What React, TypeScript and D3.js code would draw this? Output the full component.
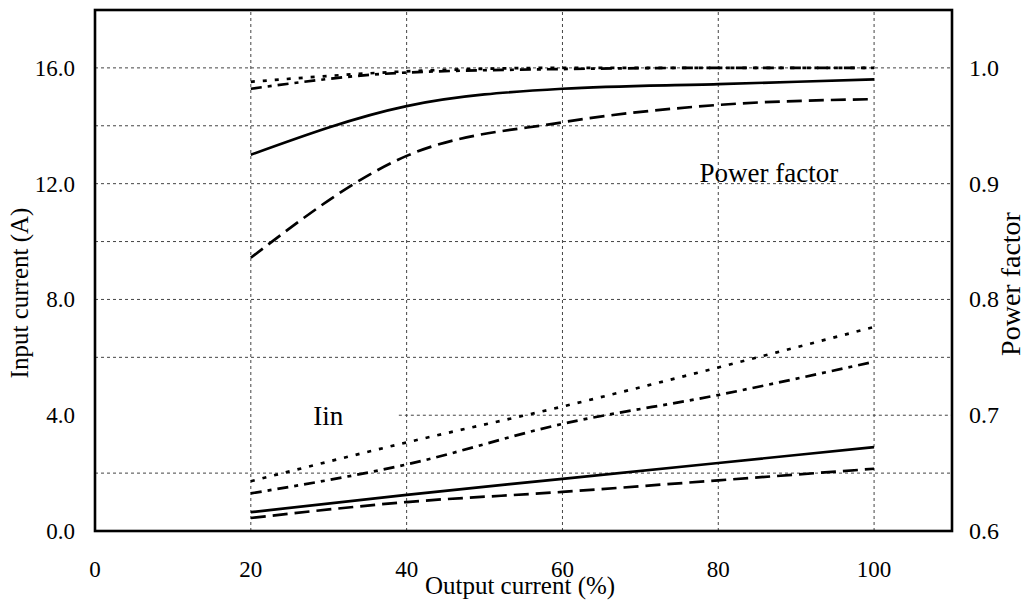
import React, { useRef, useEffect } from "react";
import * as d3 from "d3";

// Output current (%)
const outputCurrent = [20, 40, 60, 80, 100];

// Power factor curves (right axis)
const pfSolid = [0.925, 0.967, 0.982, 0.986, 0.99];
const pfDashed = [0.836, 0.924, 0.953, 0.968, 0.973];
const pfDotted = [0.988, 0.997, 1.0, 1.0, 1.0];
const pfDashDot = [0.982, 0.996, 0.999, 1.0, 1.0];

// Input current curves (left axis, A)
const iinDotted = [1.72, 3.06, 4.3, 5.65, 7.05];
const iinDashDot = [1.3, 2.3, 3.7, 4.7, 5.85];
const iinSolid = [0.65, 1.25, 1.8, 2.35, 2.9];
const iinDashed = [0.45, 1.0, 1.35, 1.75, 2.15];

const xTicks = [0, 20, 40, 60, 80, 100];
const xGrid = [20, 40, 60, 80, 100];
const leftTicks = [0, 4, 8, 12, 16];
const rightTicks = [0.6, 0.7, 0.8, 0.9, 1.0];
const hGrid = [2, 4, 6, 8, 10, 12, 14, 16];

const FONT = "'Liberation Serif', 'Times New Roman', serif";

const App = () => {
  const ref = useRef<SVGSVGElement>(null);

  useEffect(() => {
    const width = 1029;
    const height = 607;
    const svg = d3.select(ref.current);
    svg.selectAll("*").remove();

    const x = d3.scaleLinear().domain([0, 110]).range([95, 952]);
    const y = d3.scaleLinear().domain([0, 18]).range([531, 10]);
    const yR = d3.scaleLinear().domain([0.6, 1.05]).range([531, 10]);

    // mriežka
    const grid = svg
      .append("g")
      .attr("stroke", "#444")
      .attr("stroke-width", 1)
      .attr("stroke-dasharray", "3,3");
    grid
      .selectAll("line.h")
      .data(hGrid)
      .join("line")
      .attr("x1", (d) => (d === 4 ? x(39) : x(0)))
      .attr("x2", x(110))
      .attr("y1", (d) => y(d))
      .attr("y2", (d) => y(d));
    grid
      .selectAll("line.v")
      .data(xGrid)
      .join("line")
      .attr("x1", (d) => x(d))
      .attr("x2", (d) => x(d))
      .attr("y1", y(0))
      .attr("y2", y(18));

    const lineL = d3
      .line<number>()
      .x((_, i) => x(outputCurrent[i]))
      .y((d) => y(d))
      .curve(d3.curveMonotoneX);
    const lineR = d3
      .line<number>()
      .x((_, i) => x(outputCurrent[i]))
      .y((d) => yR(d))
      .curve(d3.curveMonotoneX);

    const series = [
      { values: pfSolid, gen: lineR, dash: null },
      { values: pfDashed, gen: lineR, dash: "15,7" },
      { values: pfDotted, gen: lineR, dash: "4,8" },
      { values: pfDashDot, gen: lineR, dash: "11,6,4,6" },
      { values: iinSolid, gen: lineL, dash: null },
      { values: iinDashed, gen: lineL, dash: "15,7" },
      { values: iinDotted, gen: lineL, dash: "4,8" },
      { values: iinDashDot, gen: lineL, dash: "11,6,4,6" },
    ];

    svg
      .append("g")
      .selectAll("path")
      .data(series)
      .join("path")
      .attr("fill", "none")
      .attr("stroke", "#000")
      .attr("stroke-width", 2.7)
      .attr("stroke-dasharray", (d) => d.dash)
      .attr("d", (d) => d.gen(d.values));

    // rámček
    svg
      .append("rect")
      .attr("x", x(0))
      .attr("y", y(18))
      .attr("width", x(110) - x(0))
      .attr("height", y(0) - y(18))
      .attr("fill", "none")
      .attr("stroke", "#000")
      .attr("stroke-width", 2.6);

    const txt = svg.append("g").attr("font-family", FONT).attr("fill", "#000");

    txt
      .selectAll("text.xt")
      .data(xTicks)
      .join("text")
      .attr("x", (d) => x(d))
      .attr("y", 577)
      .attr("text-anchor", "middle")
      .attr("font-size", 23)
      .text((d) => d);

    txt
      .selectAll("text.lt")
      .data(leftTicks)
      .join("text")
      .attr("class", "lt")
      .attr("x", 75)
      .attr("y", (d) => y(d) + 8)
      .attr("text-anchor", "end")
      .attr("font-size", 23)
      .text((d) => d.toFixed(1));

    txt
      .selectAll("text.rt")
      .data(rightTicks)
      .join("text")
      .attr("class", "rt")
      .attr("x", 969)
      .attr("y", (d) => yR(d) + 8)
      .attr("text-anchor", "start")
      .attr("font-size", 24)
      .text((d) => d.toFixed(1));

    txt
      .append("text")
      .attr("x", 520)
      .attr("y", 594)
      .attr("text-anchor", "middle")
      .attr("font-size", 25)
      .text("Output current (%)");

    txt
      .append("text")
      .attr("transform", "translate(28,293) rotate(-90)")
      .attr("text-anchor", "middle")
      .attr("font-size", 25)
      .text("Input current (A)");

    txt
      .append("text")
      .attr("transform", "translate(1020,284) rotate(-90)")
      .attr("text-anchor", "middle")
      .attr("font-size", 28)
      .text("Power factor");

    txt
      .append("text")
      .attr("x", x(28))
      .attr("y", y(3.65))
      .attr("font-size", 27)
      .text("Iin");

    txt
      .append("text")
      .attr("x", x(77.6))
      .attr("y", y(12.05))
      .attr("font-size", 27)
      .text("Power factor");

    svg.attr("width", width).attr("height", height);
  }, []);

  return (
    <svg
      ref={ref}
      width={1029}
      height={607}
      style={{ position: "absolute", left: 0, top: 0, background: "#fff" }}
    />
  );
};

export default App;
